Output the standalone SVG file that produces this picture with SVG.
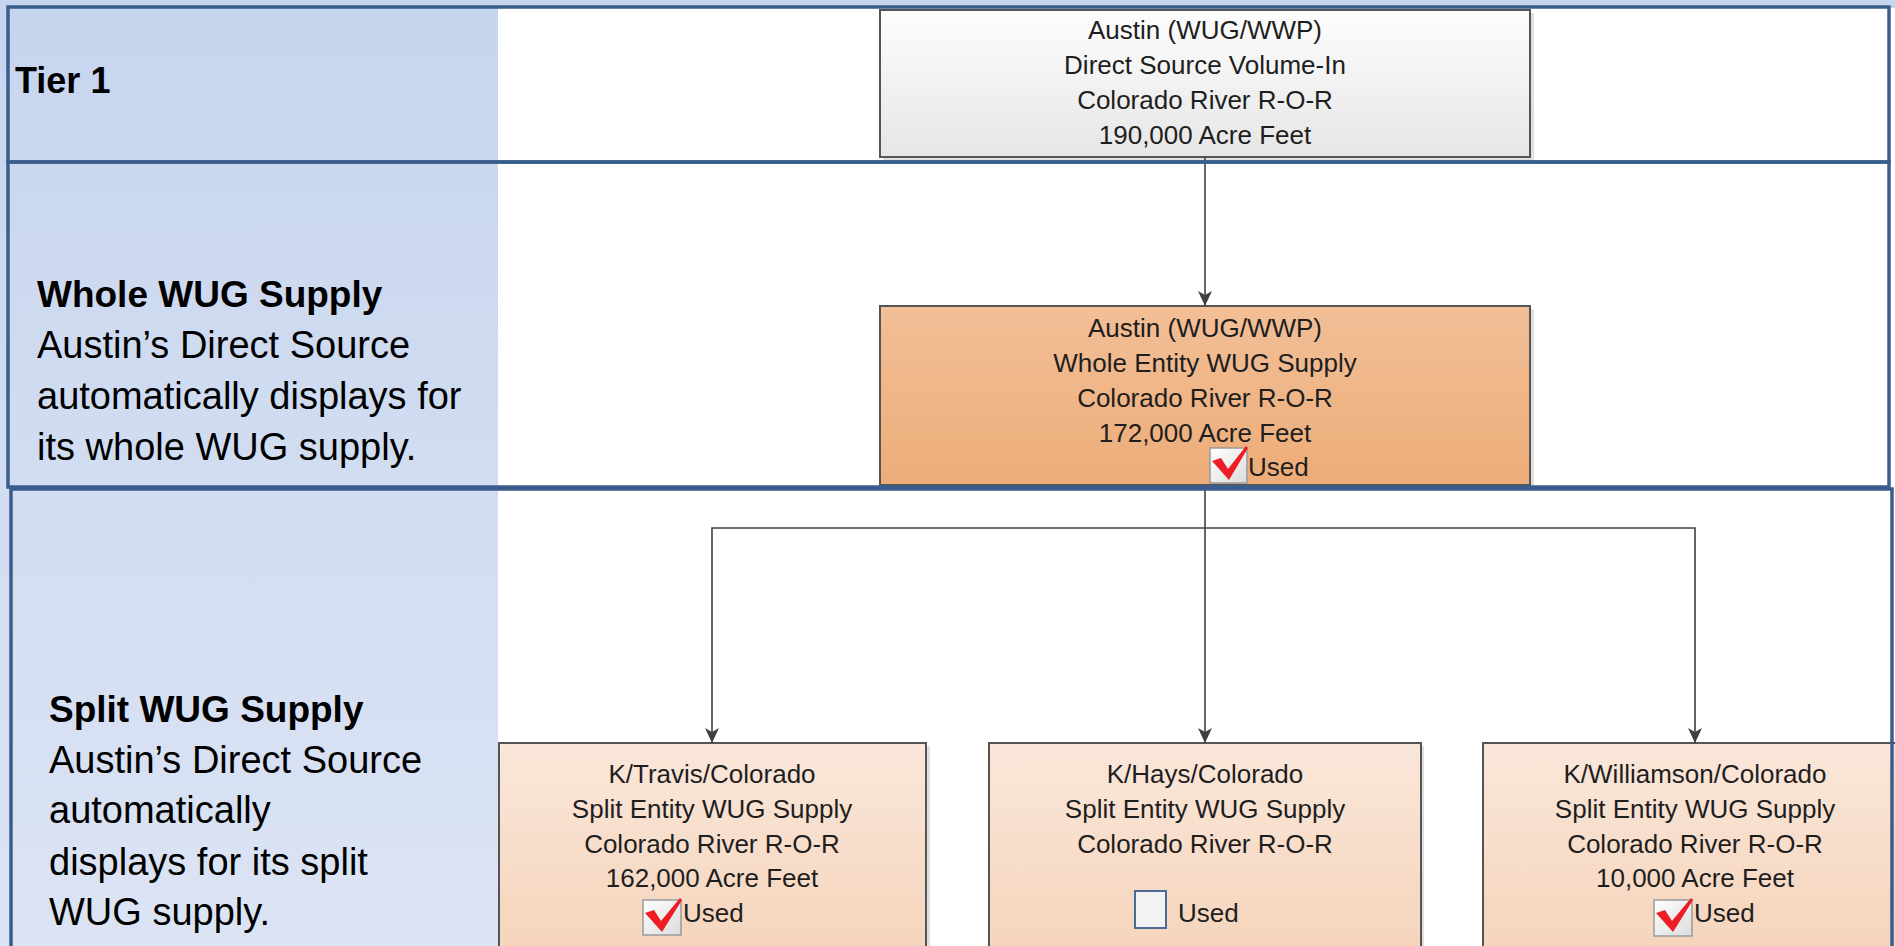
<svg xmlns="http://www.w3.org/2000/svg" width="1895" height="946" viewBox="0 0 1895 946">
<defs>
<linearGradient id="gBlue" x1="0" y1="0" x2="0" y2="1"><stop offset="0" stop-color="#c6d5ee"/><stop offset="1" stop-color="#dce4f4"/></linearGradient>
<linearGradient id="gGray" x1="0" y1="0" x2="0" y2="1"><stop offset="0" stop-color="#fdfdfd"/><stop offset="1" stop-color="#e6e6e6"/></linearGradient>
<linearGradient id="gOrange" x1="0" y1="0" x2="0" y2="1"><stop offset="0" stop-color="#f2bf97"/><stop offset="1" stop-color="#edac78"/></linearGradient>
<linearGradient id="gPeach" x1="0" y1="0" x2="0" y2="1"><stop offset="0" stop-color="#fae7da"/><stop offset="1" stop-color="#f5d4bb"/></linearGradient>
<linearGradient id="gBox" x1="0" y1="0" x2="1" y2="1"><stop offset="0" stop-color="#ffffff"/><stop offset="1" stop-color="#dcdcdc"/></linearGradient>
<marker id="arr" markerUnits="userSpaceOnUse" markerWidth="16" markerHeight="16" viewBox="0 0 16 16" refX="15" refY="8" orient="auto"><path d="M0,1 L15,8 L0,15 L4,8 Z" fill="#404040"/></marker>
</defs>
<style>
.nt{font-family:"Liberation Sans",Arial,sans-serif;font-size:26px;fill:#1e1e1e;text-anchor:middle}
.ut{font-family:"Liberation Sans",Arial,sans-serif;font-size:26px;fill:#1e1e1e}
.hd{font-family:"Liberation Sans",Arial,sans-serif;font-size:37px;font-weight:bold;fill:#000}
.bd{font-family:"Liberation Sans",Arial,sans-serif;font-size:38px;fill:#000}
.node{stroke:#555;stroke-width:2}
.shadow{fill:#000;opacity:0.12}
.tier{fill:none;stroke:#3a5e8c;stroke-width:3.5}
.conn{fill:none;stroke:#404040;stroke-width:1.6}
.cb{fill:url(#gBox);stroke:#9a9a9a;stroke-width:1.5}
.chk{fill:#ee1c24}
</style>
<rect x="0" y="0" width="1895" height="946" fill="#ffffff"/>
<rect x="0" y="0" width="498" height="946" fill="url(#gBlue)"/>
<rect x="0" y="0" width="1895" height="8" fill="#c6d5ee"/>

<g id="lane-labels">
<text class="hd" x="15" y="93" style="font-size:36px">Tier 1</text>
<text class="hd" x="37" y="307">Whole WUG Supply</text>
<text class="bd" x="37" y="358">Austin’s Direct Source</text>
<text class="bd" x="37" y="409">automatically displays for</text>
<text class="bd" x="37" y="460">its whole WUG supply.</text>
<text class="hd" x="49" y="722">Split WUG Supply</text>
<text class="bd" x="49" y="773">Austin’s Direct Source</text>
<text class="bd" x="49" y="823">automatically</text>
<text class="bd" x="49" y="875">displays for its split</text>
<text class="bd" x="49" y="925">WUG supply.</text>
</g>

<g id="node-direct">
<rect class="shadow" x="883" y="13" width="651" height="148"/>
<rect class="node" x="880" y="10" width="650" height="147" fill="url(#gGray)"/>
<text class="nt" x="1205" y="39">Austin (WUG/WWP)</text>
<text class="nt" x="1205" y="74">Direct Source Volume-In</text>
<text class="nt" x="1205" y="109">Colorado River R-O-R</text>
<text class="nt" x="1205" y="144">190,000 Acre Feet</text>
</g>

<g id="node-whole">
<rect class="shadow" x="883" y="309" width="651" height="180"/>
<rect class="node" x="880" y="306" width="650" height="179" fill="url(#gOrange)"/>
<text class="nt" x="1205" y="337">Austin (WUG/WWP)</text>
<text class="nt" x="1205" y="372">Whole Entity WUG Supply</text>
<text class="nt" x="1205" y="407">Colorado River R-O-R</text>
<text class="nt" x="1205" y="442">172,000 Acre Feet</text>
<rect class="cb" x="1210" y="448" width="37" height="35"/>
<path class="chk" d="M1212,461 L1221,458 L1228,469 L1246,446 L1248,448 L1229,480 Z"/>
<text class="ut" x="1248" y="476">Used</text>
</g>

<g id="node-travis">
<rect class="shadow" x="502" y="746" width="428" height="210"/>
<rect class="node" x="499" y="743" width="427" height="210" fill="url(#gPeach)"/>
<text class="nt" x="712" y="783">K/Travis/Colorado</text>
<text class="nt" x="712" y="818">Split Entity WUG Supply</text>
<text class="nt" x="712" y="853">Colorado River R-O-R</text>
<text class="nt" x="712" y="887">162,000 Acre Feet</text>
<rect class="cb" x="643" y="900" width="38" height="35"/>
<path class="chk" d="M645,913 L654,910 L661,921 L680,898 L682,900 L662,932 Z"/>
<text class="ut" x="683" y="922">Used</text>
</g>

<g id="node-hays">
<rect class="shadow" x="992" y="746" width="432" height="210"/>
<rect class="node" x="989" y="743" width="432" height="210" fill="url(#gPeach)"/>
<text class="nt" x="1205" y="783">K/Hays/Colorado</text>
<text class="nt" x="1205" y="818">Split Entity WUG Supply</text>
<text class="nt" x="1205" y="853">Colorado River R-O-R</text>
<rect x="1135" y="891" width="31" height="37" fill="#f2f2f2" stroke="#4a6b9a" stroke-width="2"/>
<text class="ut" x="1178" y="922">Used</text>
</g>

<g id="node-williamson">
<rect class="shadow" x="1486" y="746" width="432" height="210"/>
<rect class="node" x="1483" y="743" width="432" height="210" fill="url(#gPeach)"/>
<text class="nt" x="1695" y="783">K/Williamson/Colorado</text>
<text class="nt" x="1695" y="818">Split Entity WUG Supply</text>
<text class="nt" x="1695" y="853">Colorado River R-O-R</text>
<text class="nt" x="1695" y="887">10,000 Acre Feet</text>
<rect class="cb" x="1654" y="900" width="38" height="36"/>
<path class="chk" d="M1656,913 L1665,910 L1672,921 L1691,898 L1693,900 L1673,932 Z"/>
<text class="ut" x="1694" y="922">Used</text>
</g>

<g id="connectors">
<path class="conn" d="M1205,157 V306" marker-end="url(#arr)"/>
<path class="conn" d="M1205,485 V743" marker-end="url(#arr)"/>
<path class="conn" d="M1205,528 H712 V743" marker-end="url(#arr)"/>
<path class="conn" d="M1205,528 H1695 V743" marker-end="url(#arr)"/>
</g>

<g id="tiers">
<rect class="tier" x="8" y="7" width="1881" height="155"/>
<rect class="tier" x="8" y="162" width="1881" height="325"/>
<rect class="tier" x="11" y="489" width="1881" height="500"/>
</g>
</svg>
